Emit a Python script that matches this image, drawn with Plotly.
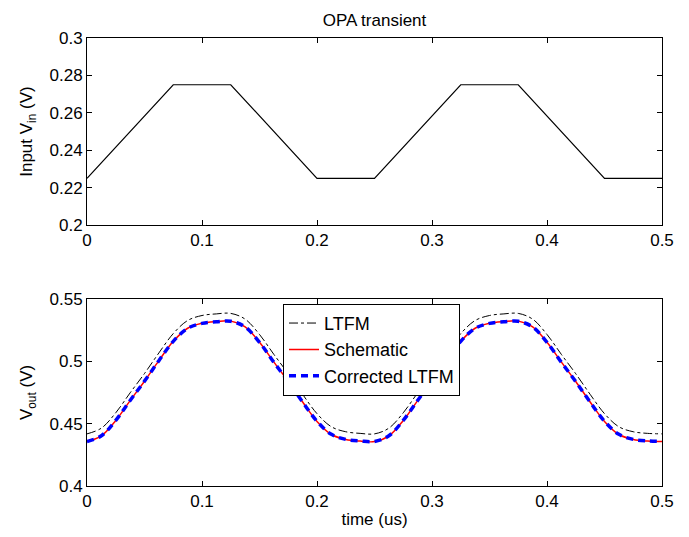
import plotly.graph_objects as go

# time axis (us)
t_in = [0, 0.075, 0.125, 0.2, 0.25, 0.325, 0.375, 0.45, 0.5]
v_in = [0.225, 0.275, 0.275, 0.225, 0.225, 0.275, 0.275, 0.225, 0.225]

t_out = [round(i * 0.0125, 4) for i in range(41)]
v_schematic = [0.4356, 0.4402, 0.4525, 0.4685, 0.4840, 0.5005, 0.5160, 0.5265, 0.5305, 0.5318, 0.5322,
               0.5276, 0.5153, 0.4993, 0.4838, 0.4673, 0.4518, 0.4413, 0.4373, 0.4360, 0.4356,
               0.4402, 0.4525, 0.4685, 0.4840, 0.5005, 0.5160, 0.5265, 0.5305, 0.5318, 0.5322,
               0.5276, 0.5153, 0.4993, 0.4838, 0.4673, 0.4518, 0.4413, 0.4373, 0.4360, 0.4356]
v_corrected = [0.4357, 0.4403, 0.4526, 0.4686, 0.4841, 0.5005, 0.5160, 0.5264, 0.5304, 0.5317, 0.5321,
               0.5275, 0.5152, 0.4992, 0.4837, 0.4673, 0.4519, 0.4414, 0.4374, 0.4361, 0.4357,
               0.4403, 0.4526, 0.4686, 0.4841, 0.5005, 0.5160, 0.5264, 0.5304, 0.5317, 0.5321,
               0.5275, 0.5152, 0.4992, 0.4837, 0.4673, 0.4519, 0.4414, 0.4374, 0.4361, 0.4357]
v_ltfm = [0.4418, 0.4464, 0.4587, 0.4747, 0.4902, 0.5067, 0.5222, 0.5327, 0.5367, 0.5380, 0.5384,
          0.5338, 0.5215, 0.5055, 0.4900, 0.4735, 0.4580, 0.4475, 0.4435, 0.4422, 0.4418,
          0.4464, 0.4587, 0.4747, 0.4902, 0.5067, 0.5222, 0.5327, 0.5367, 0.5380, 0.5384,
          0.5338, 0.5215, 0.5055, 0.4900, 0.4735, 0.4580, 0.4475, 0.4435, 0.4422, 0.4418]

x_ticks = [0, 0.1, 0.2, 0.3, 0.4, 0.5]
y1_ticks = [0.2, 0.22, 0.24, 0.26, 0.28, 0.3]
y2_ticks = [0.4, 0.45, 0.5, 0.55]

FONT = "Liberation Sans, Arial, Helvetica, sans-serif"
FS = 17

fig = go.Figure()
fig.add_trace(go.Scatter(x=t_in, y=v_in, mode="lines", line=dict(color="black", width=1.2),
                         showlegend=False, xaxis="x", yaxis="y"))
fig.add_trace(go.Scatter(x=t_out, y=v_ltfm, mode="lines", name="LTFM",
                         line=dict(color="black", width=1, dash="dashdot", shape="spline"),
                         xaxis="x2", yaxis="y2"))
fig.add_trace(go.Scatter(x=t_out, y=v_schematic, mode="lines", name="Schematic",
                         line=dict(color="#ff0000", width=1.5, shape="spline"),
                         xaxis="x2", yaxis="y2"))
fig.add_trace(go.Scatter(x=t_out, y=v_corrected, mode="lines", name="Corrected LTFM",
                         line=dict(color="#0000ff", width=3.5, dash="7px,5px", shape="spline"),
                         xaxis="x2", yaxis="y2"))

axis_common = dict(showline=True, linecolor="black", linewidth=1, mirror="ticks",
                   ticks="inside", ticklen=5, tickcolor="black", showgrid=False, zeroline=False,
                   tickfont=dict(family=FONT, size=FS, color="black"))

fig.update_layout(
    width=689, height=537,
    margin=dict(l=87, r=27, t=38, b=44),
    paper_bgcolor="white", plot_bgcolor="white",
    font=dict(family=FONT, size=FS, color="black"),
    title=dict(text="OPA transient", x=(87 + 662) / 2 / 689, xanchor="center", y=1 - 20 / 537,
               yanchor="middle", font=dict(family=FONT, size=FS, color="black")),
    xaxis=dict(domain=[0, 1], range=[0, 0.5], tickvals=x_ticks, anchor="y", **axis_common),
    yaxis=dict(domain=[(493 - 228) / 455, 1], range=[0.2, 0.3], tickvals=y1_ticks, anchor="x",
               title=dict(text="Input V<sub>in</sub> (V)", standoff=12,
                          font=dict(family=FONT, size=FS, color="black")), **axis_common),
    xaxis2=dict(domain=[0, 1], range=[0, 0.5], tickvals=x_ticks, anchor="y2",
                title=dict(text="time (us)", standoff=2, font=dict(family=FONT, size=FS, color="black")),
                **axis_common),
    yaxis2=dict(domain=[0, (493 - 303) / 455], range=[0.4, 0.55], tickvals=y2_ticks, anchor="x2",
                title=dict(text="V<sub>out</sub> (V)", standoff=12,
                           font=dict(family=FONT, size=FS, color="black")), **axis_common),
    legend=dict(x=(283 - 87) / 575, y=(493 - 308) / 455, xanchor="left", yanchor="top",
                bgcolor="white", bordercolor="black", borderwidth=1,
                font=dict(family=FONT, size=18, color="black"), tracegroupgap=0),
)

fig.write_html("out.html")
